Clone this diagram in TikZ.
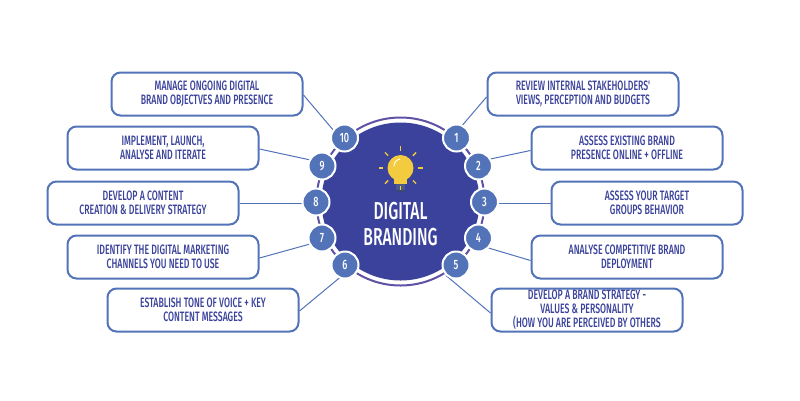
\documentclass[tikz,border=0pt]{standalone}
\usepackage{fontspec}
\usetikzlibrary{backgrounds}
\setmainfont{Fira Sans}
\newfontfamily\cond[FakeStretch=0.64]{Fira Sans Medium}
\newfontfamily\condb[FakeStretch=0.68]{Fira Sans Medium}
\newfontfamily\condt[FakeStretch=0.64]{Fira Sans Medium}
\definecolor{navy}{HTML}{3A429B}
\definecolor{edge}{HTML}{5373B9}
\definecolor{ringc}{HTML}{5F52A4}
\definecolor{bulb}{HTML}{F2CB3E}
\definecolor{bulbbase}{HTML}{4A5A8C}
\tikzset{
 box/.style={draw=edge,fill=white,line width=2pt,rounded corners=9pt,minimum width=191pt,minimum height=43pt,inner sep=0pt,outer sep=1pt,align=center,text=navy,font=\cond\fontsize{13.6}{14}\selectfont},
 num/.style={circle,fill=edge,draw=white,line width=2pt,minimum size=27pt,inner sep=0pt,text=white,font=\condb\fontsize{13.5}{14}\selectfont},
 conn/.style={draw=edge,line width=1pt},
 ray/.style={draw=bulb,line width=1.4pt},
}
\begin{document}
\begin{tikzpicture}[x=1pt,y=-1pt]
\useasboundingbox (0,0) rectangle (800,400);
\node[circle,draw=ringc,line width=2pt,minimum size=168pt,inner sep=0pt] (ring) at (400.5,201.5) {};
\node[circle,fill=navy,minimum size=158pt,inner sep=0pt] (disc) at (400.5,201.5) {};
% bulb
\fill[bulbbase] (396,183) rectangle (405,190);
\fill[bulbbase!80!black] (397,190) rectangle (404,192);
\fill[bulb] (394,178) rectangle (407,184);
\node[circle,fill=bulb,minimum size=26pt,inner sep=0pt] (bulbhead) at (400.5,168) {};
\draw[white!90!bulb,line width=1pt,line cap=round] (394,166) arc[start angle=180,end angle=260,radius=7];
\foreach \a in {0,45,...,315}{\draw[ray] ([shift={(\a:17.5)}]400.5,168) -- ([shift={(\a:22)}]400.5,168);}
\node[text=white,align=center,font=\condt\fontsize{24.5}{26}\selectfont] (title) at (400.5,224) {DIGITAL\\BRANDING};
% boxes
\node[box] (b1) at (583,94) {REVIEW INTERNAL STAKEHOLDERS'\\VIEWS, PERCEPTION AND BUDGETS};
\node[box] (b2) at (627,148) {ASSESS EXISTING BRAND\\PRESENCE ONLINE + OFFLINE};
\node[box] (b3) at (647,203) {ASSESS YOUR TARGET\\GROUPS BEHAVIOR};
\node[box] (b4) at (627,257) {ANALYSE COMPETITIVE BRAND\\DEPLOYMENT};
\node[box] (b5) at (587,310) {DEVELOP A BRAND STRATEGY -\\VALUES \& PERSONALITY\\(HOW YOU ARE PERCEIVED BY OTHERS};
\node[box] (b6) at (203,310) {ESTABLISH TONE OF VOICE + KEY\\CONTENT MESSAGES};
\node[box] (b7) at (163,257) {IDENTIFY THE DIGITAL MARKETING\\CHANNELS YOU NEED TO USE};
\node[box] (b8) at (143,203) {DEVELOP A CONTENT\\CREATION \& DELIVERY STRATEGY};
\node[box] (b9) at (163,148) {IMPLEMENT, LAUNCH,\\ANALYSE AND ITERATE};
\node[box] (b10) at (207,94) {MANAGE ONGOING DIGITAL\\BRAND OBJECTVES AND PRESENCE};
% numbers
\node[num] (n1) at (456.5,138) {1};
\node[num] (n2) at (478.5,166) {2};
\node[num] (n3) at (484.5,202) {3};
\node[num] (n4) at (478.5,238) {4};
\node[num] (n5) at (456,265) {5};
\node[num] (n6) at (345,265) {6};
\node[num] (n7) at (322,238) {7};
\node[num] (n8) at (316,202) {8};
\node[num] (n9) at (322,166) {9};
\node[num] (n10) at (344.5,138) {10};
\begin{scope}[on background layer]
\draw[conn] ([xshift=-5pt]n1.center) -- ([yshift=-3pt]b1.west);
\draw[conn] ([yshift=4.5pt]n2.center) -- ([yshift=-2.5pt]b2.west);
\draw[conn] ([yshift=-1pt]n3.center) -- (b3.west);
\draw[conn] ([yshift=-7pt]n4.center) -- ([yshift=-3.5pt]b4.west);
\draw[conn] (n5.south west) -- ([yshift=-3pt]b5.west);
\draw[conn] ([xshift=10pt]n6.center) -- ([yshift=-1pt]b6.east);
\draw[conn] ([yshift=-2.7pt]n7.center) -- ([yshift=-1pt]b7.east);
\draw[conn] ([yshift=-1pt]n8.center) -- (b8.east);
\draw[conn] ([yshift=3.5pt]n9.center) -- ([yshift=-1pt]b9.east);
\draw[conn] ([xshift=-4.5pt]n10.center) -- ([yshift=-1pt]b10.east);
\end{scope}
\end{tikzpicture}
\end{document}
